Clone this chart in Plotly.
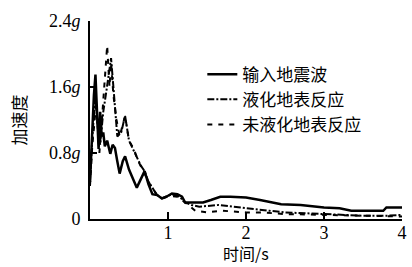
import plotly.graph_objects as go

# Input seismic wave (solid)
t_in = [0, 0.02, 0.05, 0.07, 0.09, 0.11, 0.13, 0.15, 0.17, 0.19, 0.22, 0.26, 0.29, 0.32,
        0.35, 0.38, 0.42, 0.45, 0.5, 0.55, 0.6, 0.65, 0.7, 0.75, 0.8, 0.86, 0.92, 0.98,
        1.05, 1.12, 1.18, 1.22, 1.3, 1.45, 1.55, 1.67, 1.8, 2.0, 2.18, 2.3, 2.45, 2.7,
        3.0, 3.2, 3.35, 3.5, 3.76, 3.8, 4.0]
a_in = [0.45, 0.9, 1.5, 1.75, 1.2, 0.85, 1.3, 1.0, 1.05, 0.88, 0.95, 0.79, 0.9, 0.86,
        0.7, 0.55, 0.7, 0.76, 0.6, 0.5, 0.38, 0.48, 0.58, 0.42, 0.3, 0.29, 0.25, 0.27,
        0.31, 0.3, 0.27, 0.2, 0.2, 0.2, 0.23, 0.27, 0.27, 0.26, 0.23, 0.21, 0.18, 0.17,
        0.14, 0.13, 0.1, 0.1, 0.1, 0.14, 0.14]

# Liquefied ground response (dash-dot)
t_liq = [0, 0.03, 0.07, 0.1, 0.13, 0.17, 0.21, 0.25, 0.27, 0.3, 0.35, 0.4, 0.45, 0.5,
         0.55, 0.6, 0.65, 0.7, 0.75, 0.8, 0.85, 0.92, 1.0, 1.05, 1.15, 1.22, 1.3, 1.4,
         1.65, 1.9, 2.1, 2.3, 2.5, 2.8, 3.0, 3.3, 3.5, 3.8, 4.0]
a_liq = [0.45, 1.0, 1.5, 1.1, 0.9, 1.3, 1.55, 1.8, 1.95, 1.6, 1.0, 1.05, 1.25, 0.95,
         0.85, 0.75, 0.65, 0.58, 0.45, 0.38, 0.3, 0.25, 0.28, 0.3, 0.27, 0.2, 0.17, 0.15,
         0.17, 0.14, 0.12, 0.1, 0.08, 0.07, 0.06, 0.05, 0.04, 0.04, 0.05]

# Non-liquefied ground response (dashed)
t_non = [0, 0.03, 0.08, 0.12, 0.16, 0.19, 0.22, 0.25, 0.27, 0.3, 0.34, 0.38, 0.45, 0.5,
         0.56, 0.62, 0.7, 0.78, 0.87, 0.93, 1.02, 1.12, 1.25, 1.35, 1.5, 1.7, 2.0, 2.2,
         2.5, 3.0, 3.5, 4.0]
a_non = [0.4, 0.9, 1.4, 0.8, 1.3, 1.7, 2.1, 1.6, 1.9, 1.5, 1.2, 1.0, 1.25, 0.95,
         0.85, 0.7, 0.55, 0.4, 0.28, 0.25, 0.28, 0.27, 0.18, 0.1, 0.08, 0.1, 0.08, 0.08,
         0.06, 0.05, 0.04, 0.03]

y_tickvals = [0, 0.8, 1.6, 2.4]
y_ticktext = ["0", "0.8<i>g</i>", "1.6<i>g</i>", "2.4<i>g</i>"]
x_tickvals = [1, 2, 3, 4]
names = ["输入地震波", "液化地表反应", "未液化地表反应"]
x_title = "时间/s"
y_title = "加速度"

fig = go.Figure()
fig.add_trace(go.Scatter(x=t_in, y=a_in, mode="lines", name=names[0],
                         line=dict(color="black", width=2.5)))
fig.add_trace(go.Scatter(x=t_liq, y=a_liq, mode="lines", name=names[1],
                         line=dict(color="black", width=2, dash="7px,2px,2px,2px")))
fig.add_trace(go.Scatter(x=t_non, y=a_non, mode="lines", name=names[2],
                         line=dict(color="black", width=2, dash="5px,6px")))

serif = "Times New Roman, Liberation Serif, DejaVu Serif, serif"
cjk = "Noto Sans CJK SC"

fig.update_layout(
    width=412, height=267,
    margin=dict(l=90, r=10, t=21, b=48),
    paper_bgcolor="white", plot_bgcolor="white",
    showlegend=True,
    legend=dict(x=0.36, y=0.82, xanchor="left", yanchor="top",
                bgcolor="rgba(0,0,0,0)", font=dict(family=cjk, size=17, color="black"),
                tracegroupgap=0, itemwidth=30),
    xaxis=dict(range=[0, 4], tickvals=x_tickvals, ticks="inside", ticklen=7,
               tickwidth=1.5, tickcolor="black", showline=True, linecolor="black",
               linewidth=2, showgrid=False, zeroline=False, ticklabelstandoff=-4,
               automargin=False,
               tickfont=dict(family=serif, size=18, color="black")),
    yaxis=dict(range=[0, 2.4], tickvals=y_tickvals, ticktext=y_ticktext,
               ticks="inside", ticklen=7, tickwidth=1.5, tickcolor="black",
               showline=True, linecolor="black", linewidth=2, showgrid=False,
               zeroline=False, ticklabelstandoff=4, automargin=False,
               tickfont=dict(family=serif, size=18, color="black"),
               title=dict(text=y_title, font=dict(family=cjk, size=17, color="black"),
                          standoff=18)),
    annotations=[dict(text=x_title, xref="paper", yref="paper", x=0.5, y=-0.237,
                      xanchor="center", yanchor="bottom", showarrow=False, borderpad=0,
                      font=dict(family=cjk, size=16, color="black"))],
)

fig.write_html("out.html")
